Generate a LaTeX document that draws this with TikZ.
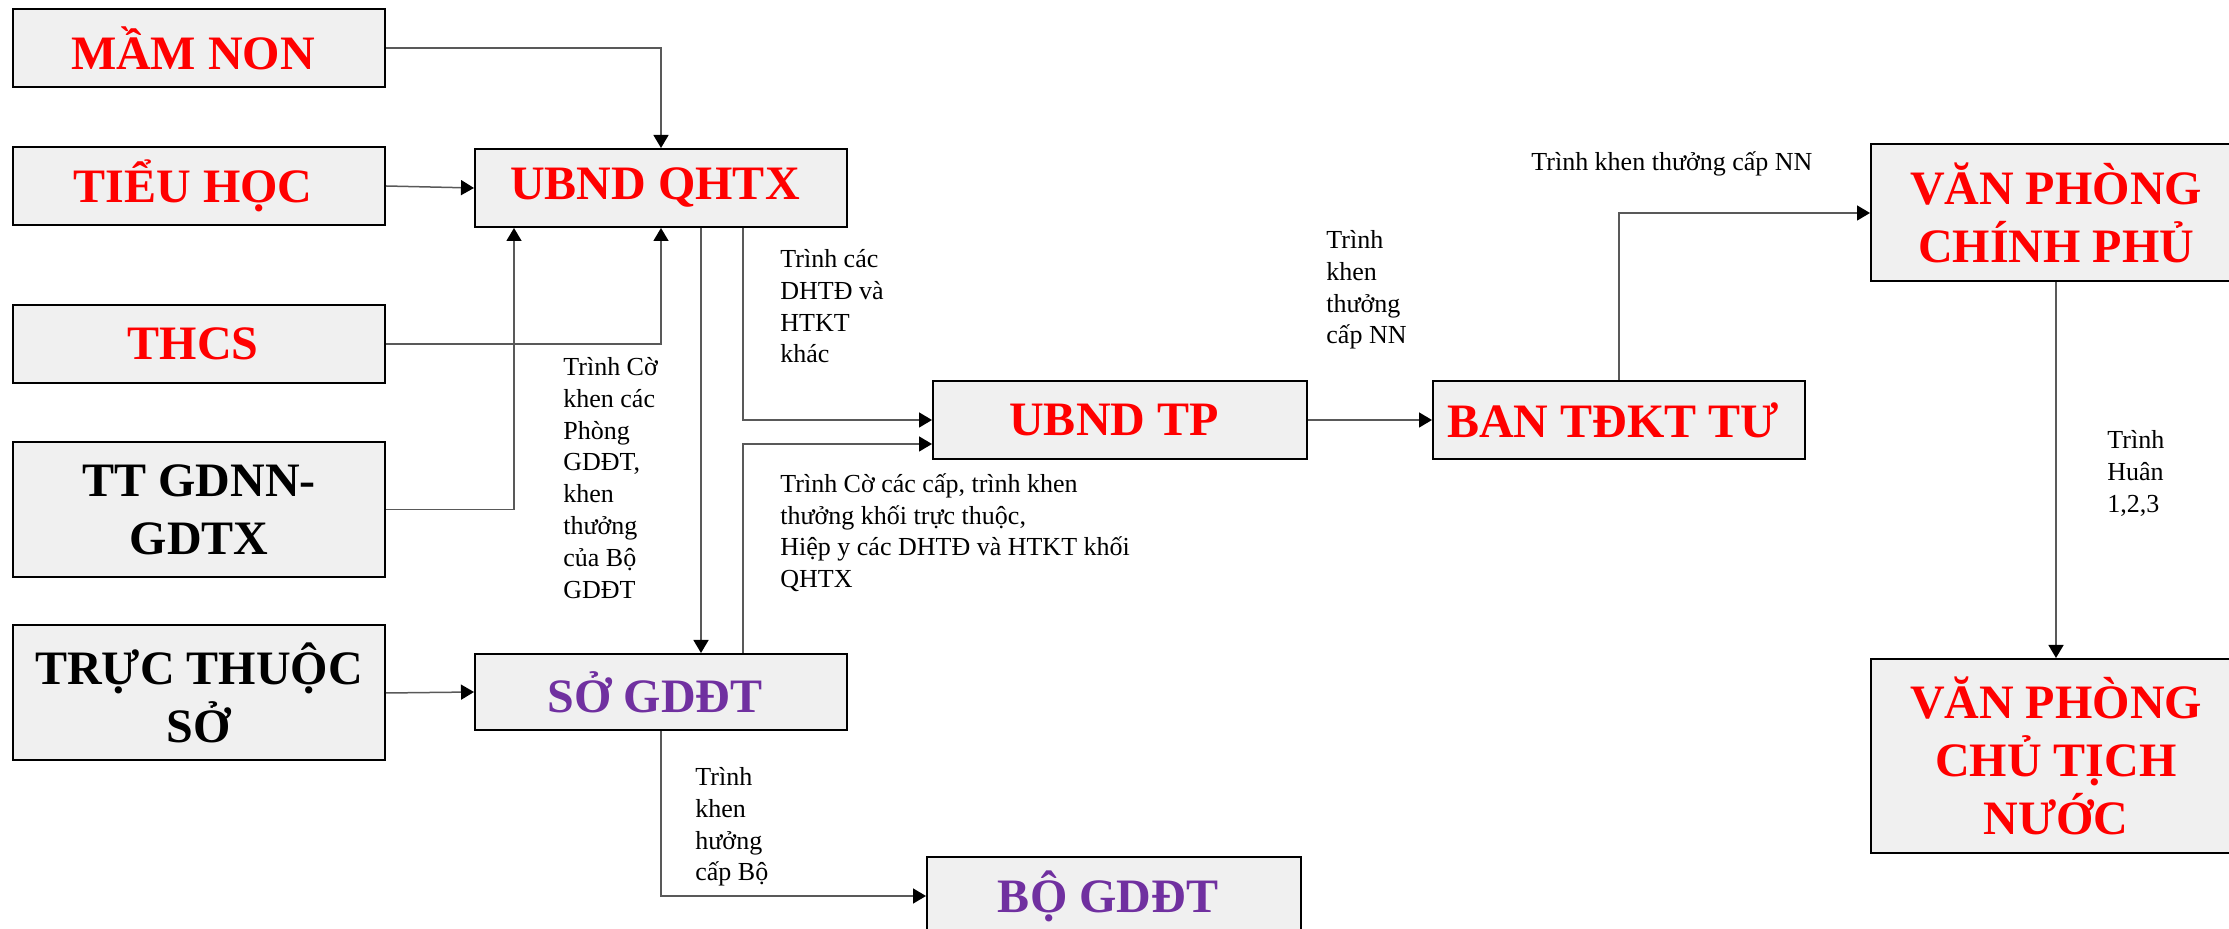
\documentclass[tikz,border=0pt]{standalone}
\usepackage{fontspec}
\setmainfont{Liberation Serif}
\usetikzlibrary{positioning,arrows.meta}
\definecolor{boxgray}{HTML}{F0F0F0}
\definecolor{redtext}{HTML}{FF0000}
\definecolor{purpletext}{HTML}{7030A0}
\definecolor{linegray}{HTML}{595959}
\begin{document}
\begin{tikzpicture}[x=0.5pt, y=-0.5pt,
	block/.style = { rectangle, draw=black, line width=1pt, fill=boxgray,
	inner sep=0pt, align=center, minimum width=186pt, minimum height=39pt,
	font=\fontsize{24}{29}\selectfont\bfseries },
	redblock/.style = { block, text=redtext },
	purpleblock/.style = { block, text=purpletext },
	note/.style = { anchor=north west, inner sep=0pt, align=left,
	font=\fontsize{13}{15.9}\selectfont },
	conn/.style = { draw=linegray, line width=0.75pt,
	-{Triangle[length=6.5pt, width=7.5pt, color=black]} } ]

  \useasboundingbox (0,0) rectangle (2229,929);
  \clip (0,0) rectangle (2229,929);

  \node [name=mamnon, redblock] at (199,48) { MẦM NON };
  \node [name=tieuhoc, redblock] at (199,186) { TIỂU HỌC };
  \node [name=thcs, redblock] at (199,344) { THCS };
  \node [name=ttgdnn, block, minimum height=67.5pt] at (199,509.5)
	{ TT GDNN-\\GDTX };
  \node [name=tructhuoc, block, minimum height=67.5pt] at (199,693)
	{ TRỰC THUỘC\\SỞ };

  \node [name=ubndqhtx, redblock] at (661,188) { UBND QHTX };
  \node [name=sogddt, purpleblock, minimum height=38pt] at (661,692)
	{ SỞ GDĐT };
  \node [name=bogddt, purpleblock, minimum width=187pt] at (1114,896)
	{ BỘ GDĐT };
  \node [name=ubndtp, redblock, minimum width=187pt] at (1120,420)
	{ UBND TP };
  \node [name=bantdkt, redblock] at (1619,420) { BAN TĐKT TƯ };
  \node [name=vpcp, redblock, minimum width=185pt, minimum height=68.5pt]
	at (2056,213) { VĂN PHÒNG\\CHÍNH PHỦ };
  \node [name=vpctn, redblock, minimum width=185pt, minimum height=97pt]
	at (2056,756) { VĂN PHÒNG\\CHỦ TỊCH\\NƯỚC };

  \draw [conn] (mamnon.east) -| (ubndqhtx.north);
  \draw [conn] (tieuhoc.east) -- (ubndqhtx.west);
  \draw [conn] (thcs.east) -| (ubndqhtx.south);
  \draw [conn] (ttgdnn.east) -| ([xshift=20pt]ubndqhtx.south west);
  \draw [conn] (tructhuoc.east) -- (sogddt.west);
  \draw [conn] ([xshift=20pt]ubndqhtx.south) -- ([xshift=20pt]sogddt.north);
  \draw [conn] ([xshift=41pt]ubndqhtx.south) |- (ubndtp.west);
  \draw [conn] ([xshift=41pt]sogddt.north) |- ([yshift=-12pt]ubndtp.west);
  \draw [conn] (ubndtp) -- (bantdkt);
  \draw [conn] (bantdkt.north) |- (vpcp.west);
  \draw [conn] (vpcp) -- (vpctn);
  \draw [conn] (sogddt.south) |- (bogddt.west);

  \node [name=lblcac, note] at (780,249)
	{ Trình các\\DHTĐ và\\HTKT\\khác };
  \node [name=lblco, note] at (563,357)
	{ Trình Cờ\\khen các\\Phòng\\GDĐT,\\khen\\thưởng\\của Bộ\\GDĐT };
  \node [name=lblcaccap, note] at (780,473)
	{ Trình Cờ các cấp, trình khen\\thưởng khối trực thuộc,\\Hiệp y các DHTĐ và HTKT khối\\QHTX };
  \node [name=lblnn, note] at (1326,230)
	{ Trình\\khen\\thưởng\\cấp NN };
  \node [name=lblnntop, note] at (1531,151)
	{ Trình khen thưởng cấp NN };
  \node [name=lblhuan, note] at (2107,430)
	{ Trình\\Huân\\1,2,3 };
  \node [name=lblbo, note] at (695,767)
	{ Trình\\khen\\hưởng\\cấp Bộ };
\end{tikzpicture}
\end{document}
